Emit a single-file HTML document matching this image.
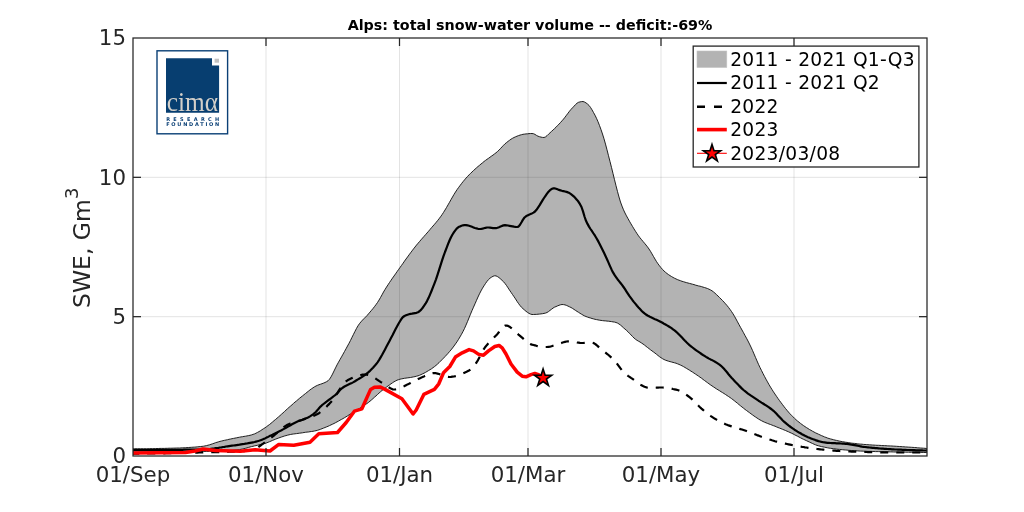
<!DOCTYPE html>
<html><head><meta charset="utf-8"><title>Alps: total snow-water volume</title>
<style>
html,body{margin:0;padding:0;background:#fff;}
body{width:1024px;height:512px;overflow:hidden;}
svg{display:block;will-change:transform;font-family:"DejaVu Sans","Liberation Sans",sans-serif;}
.tk{font-size:21.33px;fill:#262626;}
.lg{font-size:18.67px;fill:#000;letter-spacing:0.27px;}
</style></head><body>
<svg width="1024" height="512" viewBox="0 0 1024 512">
<rect width="1024" height="512" fill="#fff"/>
<clipPath id="ax"><rect x="133" y="38" width="794" height="418"/></clipPath>
<g clip-path="url(#ax)">
<path d="M133.0,448.8L134.5,448.7L136.0,448.7L137.5,448.7L139.0,448.7L140.5,448.7L142.0,448.7L143.5,448.7L145.0,448.7L146.5,448.7L148.0,448.7L149.5,448.6L151.0,448.6L152.5,448.6L154.0,448.6L155.5,448.5L157.0,448.5L158.5,448.5L160.0,448.4L161.5,448.4L163.0,448.4L164.5,448.4L166.0,448.3L167.5,448.3L169.0,448.2L170.5,448.2L172.0,448.2L173.5,448.1L175.0,448.1L176.5,448.0L178.0,448.0L179.5,448.0L181.0,447.9L182.5,447.8L184.0,447.8L185.5,447.7L187.0,447.6L188.5,447.5L190.0,447.4L191.5,447.3L193.0,447.2L194.5,447.1L196.0,447.0L197.5,446.8L199.0,446.7L200.5,446.5L202.0,446.4L203.5,446.2L205.0,445.9L206.5,445.6L208.0,445.2L209.5,444.8L211.0,444.3L212.5,443.8L214.0,443.3L215.5,442.7L217.0,442.3L218.5,441.8L220.0,441.4L221.5,441.0L223.0,440.7L224.5,440.3L226.0,440.0L227.5,439.7L229.0,439.3L230.5,439.0L232.0,438.7L233.5,438.4L235.0,438.1L236.5,437.8L238.0,437.5L239.5,437.2L241.0,436.9L242.5,436.7L244.0,436.4L245.5,436.2L247.0,435.9L248.5,435.6L250.0,435.3L251.5,434.9L253.0,434.4L254.5,433.9L256.0,433.2L257.5,432.4L259.0,431.6L260.5,430.7L262.0,429.7L263.5,428.7L265.0,427.8L266.5,426.7L268.0,425.6L269.5,424.5L271.0,423.3L272.5,422.0L274.0,420.7L275.5,419.5L277.0,418.2L278.5,416.9L280.0,415.6L281.5,414.2L283.0,412.9L284.5,411.5L286.0,410.1L287.5,408.7L289.0,407.4L290.5,406.1L292.0,404.8L293.5,403.4L295.0,402.1L296.5,400.9L298.0,399.6L299.5,398.3L301.0,397.1L302.5,395.9L304.0,394.7L305.5,393.5L307.0,392.3L308.5,391.1L310.0,389.9L311.5,388.8L313.0,387.8L314.5,386.8L316.0,386.0L317.5,385.3L319.0,384.7L320.5,384.2L322.0,383.7L323.5,383.1L325.0,382.5L326.5,381.7L328.0,380.8L329.5,379.2L331.0,376.9L332.5,374.1L334.0,371.0L335.5,367.9L337.0,364.9L338.5,362.2L340.0,359.5L341.5,356.9L343.0,354.2L344.5,351.5L346.0,348.8L347.5,346.0L349.0,343.3L350.5,340.4L352.0,337.3L353.5,334.3L355.0,331.3L356.5,328.4L358.0,325.8L359.5,323.6L361.0,321.8L362.5,320.1L364.0,318.6L365.5,317.1L367.0,315.6L368.5,313.8L370.0,312.1L371.5,310.3L373.0,308.5L374.5,306.6L376.0,304.6L377.5,302.5L379.0,300.1L380.5,297.5L382.0,294.8L383.5,292.0L385.0,289.5L386.5,287.1L388.0,284.8L389.5,282.5L391.0,280.3L392.5,278.1L394.0,276.0L395.5,273.9L397.0,271.7L398.5,269.6L400.0,267.5L401.5,265.4L403.0,263.3L404.5,261.1L406.0,259.0L407.5,257.0L409.0,254.9L410.5,252.9L412.0,250.9L413.5,248.9L415.0,247.0L416.5,245.1L418.0,243.3L419.5,241.6L421.0,239.8L422.5,238.1L424.0,236.4L425.5,234.7L427.0,233.0L428.5,231.3L430.0,229.5L431.5,227.7L433.0,226.0L434.5,224.3L436.0,222.5L437.5,220.7L439.0,218.8L440.5,216.8L442.0,214.7L443.5,212.4L445.0,210.0L446.5,207.5L448.0,204.9L449.5,202.3L451.0,199.6L452.5,197.0L454.0,194.4L455.5,192.0L457.0,189.7L458.5,187.6L460.0,185.6L461.5,183.6L463.0,181.7L464.5,179.9L466.0,178.1L467.5,176.5L469.0,174.9L470.5,173.4L472.0,172.0L473.5,170.5L475.0,169.2L476.5,167.8L478.0,166.5L479.5,165.3L481.0,164.0L482.5,162.8L484.0,161.5L485.5,160.4L487.0,159.3L488.5,158.3L490.0,157.2L491.5,156.1L493.0,155.1L494.5,153.9L496.0,152.8L497.5,151.5L499.0,150.1L500.5,148.5L502.0,146.9L503.5,145.3L505.0,143.8L506.5,142.6L508.0,141.4L509.5,140.3L511.0,139.2L512.5,138.3L514.0,137.5L515.5,136.8L517.0,136.2L518.5,135.6L520.0,135.1L521.5,134.7L523.0,134.3L524.5,134.1L526.0,133.9L527.5,133.8L529.0,133.6L530.5,133.5L532.0,133.5L533.5,133.7L535.0,134.4L536.5,135.4L538.0,136.2L539.5,136.7L541.0,137.1L542.5,137.4L544.0,137.5L545.5,136.9L547.0,135.7L548.5,134.2L550.0,132.8L551.5,131.4L553.0,130.1L554.5,128.6L556.0,127.2L557.5,125.6L559.0,124.1L560.5,122.5L562.0,120.8L563.5,119.1L565.0,117.2L566.5,115.2L568.0,113.2L569.5,111.2L571.0,109.4L572.5,107.8L574.0,106.2L575.5,104.6L577.0,103.2L578.5,102.3L580.0,101.9L581.5,101.6L583.0,101.5L584.5,102.0L586.0,102.9L587.5,104.0L589.0,105.4L590.5,107.4L592.0,109.8L593.5,112.5L595.0,115.2L596.5,118.3L598.0,121.7L599.5,125.5L601.0,129.6L602.5,134.0L604.0,138.8L605.5,144.1L607.0,149.8L608.5,155.7L610.0,161.5L611.5,167.4L613.0,173.5L614.5,179.7L616.0,185.7L617.5,191.5L619.0,197.0L620.5,202.0L622.0,206.1L623.5,209.8L625.0,213.0L626.5,215.9L628.0,218.6L629.5,221.3L631.0,223.9L632.5,226.4L634.0,228.9L635.5,231.3L637.0,233.6L638.5,235.8L640.0,237.8L641.5,239.6L643.0,241.4L644.5,243.2L646.0,245.0L647.5,246.9L649.0,249.0L650.5,251.3L652.0,253.9L653.5,256.5L655.0,259.1L656.5,261.6L658.0,263.8L659.5,265.8L661.0,267.7L662.5,269.4L664.0,271.0L665.5,272.3L667.0,273.5L668.5,274.6L670.0,275.6L671.5,276.5L673.0,277.4L674.5,278.2L676.0,278.9L677.5,279.6L679.0,280.2L680.5,280.7L682.0,281.3L683.5,281.7L685.0,282.2L686.5,282.6L688.0,283.0L689.5,283.4L691.0,283.8L692.5,284.2L694.0,284.6L695.5,285.1L697.0,285.5L698.5,285.9L700.0,286.2L701.5,286.6L703.0,287.1L704.5,287.5L706.0,288.0L707.5,288.5L709.0,289.2L710.5,289.9L712.0,290.8L713.5,291.9L715.0,293.2L716.5,294.6L718.0,296.0L719.5,297.5L721.0,299.0L722.5,300.5L724.0,302.1L725.5,303.8L727.0,305.5L728.5,307.4L730.0,309.4L731.5,311.5L733.0,313.8L734.5,316.3L736.0,319.0L737.5,321.8L739.0,324.6L740.5,327.3L742.0,330.0L743.5,332.7L745.0,335.5L746.5,338.2L748.0,341.0L749.5,344.0L751.0,347.1L752.5,350.4L754.0,353.9L755.5,357.4L757.0,360.9L758.5,364.3L760.0,367.5L761.5,370.5L763.0,373.5L764.5,376.4L766.0,379.2L767.5,381.9L769.0,384.6L770.5,387.1L772.0,389.5L773.5,391.9L775.0,394.1L776.5,396.3L778.0,398.5L779.5,400.6L781.0,402.6L782.5,404.6L784.0,406.6L785.5,408.5L787.0,410.3L788.5,412.1L790.0,413.8L791.5,415.3L793.0,416.8L794.5,418.3L796.0,419.7L797.5,421.0L799.0,422.2L800.5,423.4L802.0,424.5L803.5,425.6L805.0,426.6L806.5,427.6L808.0,428.5L809.5,429.5L811.0,430.3L812.5,431.2L814.0,432.0L815.5,432.8L817.0,433.5L818.5,434.2L820.0,434.9L821.5,435.6L823.0,436.2L824.5,436.9L826.0,437.4L827.5,438.0L829.0,438.5L830.5,438.9L832.0,439.3L833.5,439.7L835.0,440.1L836.5,440.4L838.0,440.8L839.5,441.1L841.0,441.4L842.5,441.7L844.0,441.9L845.5,442.2L847.0,442.4L848.5,442.6L850.0,442.9L851.5,443.1L853.0,443.3L854.5,443.4L856.0,443.6L857.5,443.8L859.0,444.0L860.5,444.1L862.0,444.2L863.5,444.4L865.0,444.5L866.5,444.6L868.0,444.7L869.5,444.8L871.0,444.9L872.5,445.0L874.0,445.1L875.5,445.2L877.0,445.3L878.5,445.3L880.0,445.4L881.5,445.5L883.0,445.6L884.5,445.6L886.0,445.7L887.5,445.8L889.0,445.9L890.5,445.9L892.0,446.0L893.5,446.1L895.0,446.2L896.5,446.3L898.0,446.4L899.5,446.5L901.0,446.6L902.5,446.7L904.0,446.8L905.5,446.9L907.0,447.0L908.5,447.1L910.0,447.2L911.5,447.3L913.0,447.4L914.5,447.5L916.0,447.6L917.5,447.8L919.0,447.9L920.5,448.0L922.0,448.1L923.5,448.2L925.0,448.3L926.5,448.5L927.0,448.5L927.0,452.5L926.5,452.5L925.0,452.5L923.5,452.5L922.0,452.4L920.5,452.4L919.0,452.4L917.5,452.4L916.0,452.3L914.5,452.3L913.0,452.3L911.5,452.3L910.0,452.3L908.5,452.2L907.0,452.2L905.5,452.2L904.0,452.1L902.5,452.1L901.0,452.1L899.5,452.1L898.0,452.0L896.5,452.0L895.0,452.0L893.5,452.0L892.0,451.9L890.5,451.9L889.0,451.9L887.5,451.8L886.0,451.8L884.5,451.8L883.0,451.7L881.5,451.7L880.0,451.7L878.5,451.6L877.0,451.6L875.5,451.6L874.0,451.5L872.5,451.5L871.0,451.4L869.5,451.4L868.0,451.4L866.5,451.3L865.0,451.2L863.5,451.2L862.0,451.1L860.5,451.1L859.0,451.0L857.5,450.9L856.0,450.8L854.5,450.7L853.0,450.6L851.5,450.5L850.0,450.4L848.5,450.3L847.0,450.1L845.5,450.0L844.0,449.9L842.5,449.7L841.0,449.6L839.5,449.4L838.0,449.3L836.5,449.1L835.0,448.9L833.5,448.7L832.0,448.5L830.5,448.3L829.0,448.1L827.5,447.8L826.0,447.5L824.5,447.2L823.0,446.9L821.5,446.6L820.0,446.2L818.5,445.8L817.0,445.4L815.5,444.8L814.0,444.2L812.5,443.5L811.0,442.8L809.5,442.1L808.0,441.4L806.5,440.7L805.0,440.0L803.5,439.3L802.0,438.6L800.5,437.8L799.0,437.0L797.5,436.2L796.0,435.5L794.5,434.7L793.0,433.9L791.5,433.2L790.0,432.5L788.5,431.8L787.0,431.2L785.5,430.5L784.0,429.9L782.5,429.3L781.0,428.7L779.5,428.1L778.0,427.5L776.5,426.9L775.0,426.2L773.5,425.7L772.0,425.1L770.5,424.5L769.0,424.0L767.5,423.4L766.0,422.8L764.5,422.2L763.0,421.5L761.5,420.7L760.0,419.9L758.5,419.0L757.0,418.0L755.5,417.0L754.0,416.0L752.5,414.9L751.0,413.8L749.5,412.7L748.0,411.6L746.5,410.5L745.0,409.4L743.5,408.2L742.0,407.0L740.5,405.8L739.0,404.6L737.5,403.3L736.0,402.1L734.5,400.9L733.0,399.7L731.5,398.6L730.0,397.5L728.5,396.5L727.0,395.5L725.5,394.5L724.0,393.5L722.5,392.6L721.0,391.7L719.5,390.7L718.0,389.8L716.5,388.9L715.0,387.9L713.5,386.9L712.0,385.9L710.5,384.9L709.0,383.8L707.5,382.7L706.0,381.6L704.5,380.5L703.0,379.4L701.5,378.2L700.0,377.2L698.5,376.1L697.0,375.1L695.5,374.1L694.0,373.1L692.5,372.1L691.0,371.2L689.5,370.2L688.0,369.3L686.5,368.4L685.0,367.5L683.5,366.6L682.0,365.8L680.5,365.1L679.0,364.4L677.5,363.8L676.0,363.2L674.5,362.8L673.0,362.4L671.5,362.0L670.0,361.6L668.5,361.2L667.0,360.7L665.5,360.2L664.0,359.5L662.5,358.7L661.0,357.7L659.5,356.7L658.0,355.5L656.5,354.3L655.0,353.1L653.5,352.0L652.0,350.9L650.5,349.8L649.0,348.6L647.5,347.5L646.0,346.3L644.5,345.1L643.0,344.0L641.5,343.0L640.0,342.0L638.5,341.2L637.0,340.3L635.5,339.3L634.0,338.0L632.5,336.5L631.0,334.9L629.5,333.4L628.0,331.8L626.5,330.4L625.0,329.1L623.5,327.8L622.0,326.4L620.5,325.1L619.0,324.0L617.5,323.1L616.0,322.5L614.5,322.1L613.0,321.9L611.5,321.6L610.0,321.4L608.5,321.2L607.0,321.1L605.5,320.9L604.0,320.8L602.5,320.6L601.0,320.4L599.5,320.2L598.0,319.9L596.5,319.6L595.0,319.3L593.5,318.9L592.0,318.5L590.5,318.0L589.0,317.6L587.5,317.1L586.0,316.5L584.5,315.9L583.0,315.1L581.5,314.2L580.0,313.3L578.5,312.3L577.0,311.4L575.5,310.4L574.0,309.4L572.5,308.4L571.0,307.5L569.5,306.8L568.0,306.1L566.5,305.4L565.0,304.9L563.5,304.6L562.0,304.5L560.5,304.8L559.0,305.3L557.5,305.9L556.0,306.6L554.5,307.2L553.0,308.1L551.5,309.3L550.0,310.4L548.5,311.6L547.0,312.5L545.5,313.1L544.0,313.4L542.5,313.7L541.0,313.9L539.5,314.1L538.0,314.2L536.5,314.4L535.0,314.4L533.5,314.5L532.0,314.5L530.5,314.1L529.0,313.4L527.5,312.4L526.0,311.3L524.5,310.0L523.0,308.7L521.5,307.3L520.0,305.5L518.5,303.5L517.0,301.3L515.5,298.9L514.0,296.7L512.5,294.5L511.0,292.3L509.5,290.1L508.0,287.8L506.5,285.5L505.0,283.5L503.5,281.7L502.0,280.3L500.5,278.9L499.0,277.6L497.5,276.6L496.0,275.9L494.5,275.8L493.0,276.3L491.5,277.2L490.0,278.2L488.5,279.6L487.0,281.4L485.5,283.5L484.0,285.8L482.5,288.2L481.0,290.9L479.5,293.8L478.0,297.0L476.5,300.4L475.0,303.8L473.5,307.2L472.0,310.6L470.5,314.2L469.0,317.9L467.5,321.6L466.0,325.1L464.5,328.5L463.0,331.5L461.5,334.3L460.0,336.9L458.5,339.4L457.0,341.8L455.5,343.9L454.0,346.0L452.5,348.0L451.0,349.9L449.5,351.6L448.0,353.4L446.5,355.0L445.0,356.6L443.5,358.2L442.0,359.7L440.5,361.2L439.0,362.7L437.5,364.1L436.0,365.4L434.5,366.6L433.0,367.7L431.5,368.8L430.0,369.7L428.5,370.6L427.0,371.5L425.5,372.4L424.0,373.2L422.5,373.9L421.0,374.6L419.5,375.3L418.0,375.8L416.5,376.2L415.0,376.6L413.5,376.9L412.0,377.2L410.5,377.5L409.0,377.7L407.5,377.9L406.0,378.1L404.5,378.3L403.0,378.6L401.5,378.9L400.0,379.2L398.5,379.7L397.0,380.2L395.5,381.0L394.0,381.8L392.5,382.8L391.0,383.8L389.5,384.9L388.0,386.0L386.5,387.1L385.0,388.3L383.5,389.4L382.0,390.5L380.5,391.8L379.0,393.1L377.5,394.5L376.0,395.9L374.5,397.2L373.0,398.6L371.5,399.9L370.0,401.2L368.5,402.4L367.0,403.5L365.5,404.5L364.0,405.6L362.5,406.5L361.0,407.5L359.5,408.4L358.0,409.4L356.5,410.3L355.0,411.2L353.5,412.1L352.0,413.1L350.5,414.0L349.0,414.9L347.5,415.9L346.0,416.8L344.5,417.7L343.0,418.6L341.5,419.4L340.0,420.2L338.5,421.1L337.0,421.9L335.5,422.7L334.0,423.5L332.5,424.2L331.0,424.9L329.5,425.6L328.0,426.3L326.5,426.9L325.0,427.5L323.5,428.1L322.0,428.7L320.5,429.3L319.0,429.8L317.5,430.3L316.0,430.7L314.5,431.0L313.0,431.3L311.5,431.5L310.0,431.7L308.5,432.0L307.0,432.1L305.5,432.3L304.0,432.5L302.5,432.8L301.0,433.0L299.5,433.2L298.0,433.4L296.5,433.6L295.0,433.8L293.5,434.0L292.0,434.2L290.5,434.5L289.0,434.8L287.5,435.2L286.0,435.6L284.5,436.0L283.0,436.5L281.5,437.0L280.0,437.5L278.5,438.1L277.0,438.6L275.5,439.2L274.0,439.8L272.5,440.4L271.0,441.1L269.5,441.7L268.0,442.3L266.5,442.9L265.0,443.4L263.5,443.8L262.0,444.2L260.5,444.6L259.0,444.9L257.5,445.3L256.0,445.6L254.5,445.9L253.0,446.3L251.5,446.6L250.0,447.0L248.5,447.4L247.0,447.9L245.5,448.3L244.0,448.7L242.5,449.0L241.0,449.3L239.5,449.6L238.0,449.8L236.5,449.9L235.0,450.1L233.5,450.2L232.0,450.4L230.5,450.5L229.0,450.6L227.5,450.6L226.0,450.7L224.5,450.8L223.0,450.8L221.5,450.9L220.0,451.0L218.5,451.0L217.0,451.1L215.5,451.1L214.0,451.2L212.5,451.2L211.0,451.3L209.5,451.3L208.0,451.4L206.5,451.4L205.0,451.4L203.5,451.4L202.0,451.5L200.5,451.5L199.0,451.5L197.5,451.5L196.0,451.6L194.5,451.6L193.0,451.6L191.5,451.6L190.0,451.6L188.5,451.6L187.0,451.7L185.5,451.7L184.0,451.7L182.5,451.7L181.0,451.7L179.5,451.7L178.0,451.8L176.5,451.8L175.0,451.8L173.5,451.8L172.0,451.8L170.5,451.8L169.0,451.8L167.5,451.9L166.0,451.9L164.5,451.9L163.0,451.9L161.5,451.9L160.0,451.9L158.5,451.9L157.0,451.9L155.5,451.9L154.0,451.9L152.5,452.0L151.0,452.0L149.5,452.0L148.0,452.0L146.5,452.0L145.0,452.0L143.5,452.0L142.0,452.0L140.5,452.0L139.0,452.0L137.5,452.0L136.0,452.0L134.5,452.0L133.0,452.0Z" fill="#b3b3b3" stroke="#000" stroke-width="0.85" stroke-linejoin="round"/>
</g>
<g><line x1="266" y1="38" x2="266" y2="456" stroke="#262626" stroke-opacity="0.13" stroke-width="1"/><line x1="399.5" y1="38" x2="399.5" y2="456" stroke="#262626" stroke-opacity="0.13" stroke-width="1"/><line x1="528" y1="38" x2="528" y2="456" stroke="#262626" stroke-opacity="0.13" stroke-width="1"/><line x1="661" y1="38" x2="661" y2="456" stroke="#262626" stroke-opacity="0.13" stroke-width="1"/><line x1="794" y1="38" x2="794" y2="456" stroke="#262626" stroke-opacity="0.13" stroke-width="1"/><line x1="133" y1="316.67" x2="927" y2="316.67" stroke="#262626" stroke-opacity="0.13" stroke-width="1"/><line x1="133" y1="177.33" x2="927" y2="177.33" stroke="#262626" stroke-opacity="0.13" stroke-width="1"/></g>
<g clip-path="url(#ax)">
<path d="M133.0,450.0L134.5,450.0L136.0,450.0L137.5,450.0L139.0,450.0L140.5,450.0L142.0,450.0L143.5,450.0L145.0,450.0L146.5,450.0L148.0,450.0L149.5,450.0L151.0,450.0L152.5,450.0L154.0,450.0L155.5,450.0L157.0,449.9L158.5,449.9L160.0,449.9L161.5,449.9L163.0,449.9L164.5,449.9L166.0,449.9L167.5,449.9L169.0,449.9L170.5,449.9L172.0,449.9L173.5,449.8L175.0,449.8L176.5,449.8L178.0,449.8L179.5,449.8L181.0,449.8L182.5,449.8L184.0,449.7L185.5,449.7L187.0,449.7L188.5,449.7L190.0,449.7L191.5,449.7L193.0,449.6L194.5,449.6L196.0,449.6L197.5,449.6L199.0,449.6L200.5,449.5L202.0,449.5L203.5,449.5L205.0,449.4L206.5,449.3L208.0,449.2L209.5,449.1L211.0,448.9L212.5,448.7L214.0,448.5L215.5,448.2L217.0,448.0L218.5,447.8L220.0,447.5L221.5,447.3L223.0,447.0L224.5,446.8L226.0,446.5L227.5,446.3L229.0,446.1L230.5,445.9L232.0,445.7L233.5,445.5L235.0,445.3L236.5,445.1L238.0,444.9L239.5,444.7L241.0,444.4L242.5,444.2L244.0,444.0L245.5,443.7L247.0,443.5L248.5,443.2L250.0,442.9L251.5,442.6L253.0,442.3L254.5,442.0L256.0,441.6L257.5,441.2L259.0,440.8L260.5,440.3L262.0,439.7L263.5,439.1L265.0,438.4L266.5,437.6L268.0,436.9L269.5,436.1L271.0,435.4L272.5,434.7L274.0,433.9L275.5,433.2L277.0,432.5L278.5,431.7L280.0,430.9L281.5,430.2L283.0,429.4L284.5,428.6L286.0,427.8L287.5,426.9L289.0,426.0L290.5,425.2L292.0,424.3L293.5,423.5L295.0,422.7L296.5,422.0L298.0,421.3L299.5,420.8L301.0,420.2L302.5,419.7L304.0,419.2L305.5,418.6L307.0,417.9L308.5,417.2L310.0,416.4L311.5,415.4L313.0,414.4L314.5,413.2L316.0,411.8L317.5,410.1L319.0,408.3L320.5,406.6L322.0,405.2L323.5,404.0L325.0,402.8L326.5,401.7L328.0,400.5L329.5,399.4L331.0,398.3L332.5,397.2L334.0,396.0L335.5,394.8L337.0,393.5L338.5,391.9L340.0,390.0L341.5,388.6L343.0,387.5L344.5,386.5L346.0,385.7L347.5,385.0L349.0,384.3L350.5,383.6L352.0,382.9L353.5,382.1L355.0,381.2L356.5,380.3L358.0,379.4L359.5,378.5L361.0,377.6L362.5,376.6L364.0,375.5L365.5,374.5L367.0,373.3L368.5,372.1L370.0,370.8L371.5,369.3L373.0,367.8L374.5,366.1L376.0,364.3L377.5,362.3L379.0,360.1L380.5,357.6L382.0,355.0L383.5,352.2L385.0,349.4L386.5,346.6L388.0,343.7L389.5,340.9L391.0,338.1L392.5,335.3L394.0,332.3L395.5,329.3L397.0,326.5L398.5,323.7L400.0,321.2L401.5,318.8L403.0,317.0L404.5,316.0L406.0,315.3L407.5,314.8L409.0,314.3L410.5,313.9L412.0,313.7L413.5,313.4L415.0,313.1L416.5,312.8L418.0,312.2L419.5,311.3L421.0,309.9L422.5,308.0L424.0,305.9L425.5,303.7L427.0,301.1L428.5,298.1L430.0,294.6L431.5,291.0L433.0,287.2L434.5,283.3L436.0,279.3L437.5,274.9L439.0,270.2L440.5,265.4L442.0,260.7L443.5,256.2L445.0,252.0L446.5,248.1L448.0,244.2L449.5,240.5L451.0,237.2L452.5,234.5L454.0,232.2L455.5,230.1L457.0,228.3L458.5,227.1L460.0,226.4L461.5,225.7L463.0,225.3L464.5,225.0L466.0,225.1L467.5,225.3L469.0,225.7L470.5,226.2L472.0,226.8L473.5,227.4L475.0,228.0L476.5,228.4L478.0,228.8L479.5,229.0L481.0,228.9L482.5,228.6L484.0,228.2L485.5,227.8L487.0,227.5L488.5,227.5L490.0,227.7L491.5,227.9L493.0,228.1L494.5,228.2L496.0,228.2L497.5,227.8L499.0,227.2L500.5,226.5L502.0,225.9L503.5,225.4L505.0,225.2L506.5,225.3L508.0,225.5L509.5,225.8L511.0,226.1L512.5,226.4L514.0,226.7L515.5,226.9L517.0,227.0L518.5,226.6L520.0,224.8L521.5,222.3L523.0,219.6L524.5,217.5L526.0,216.3L527.5,215.4L529.0,214.7L530.5,214.1L532.0,213.4L533.5,212.6L535.0,211.5L536.5,209.8L538.0,207.6L539.5,205.4L541.0,202.9L542.5,200.4L544.0,198.0L545.5,195.8L547.0,193.6L548.5,191.7L550.0,190.2L551.5,189.1L553.0,188.4L554.5,188.3L556.0,188.7L557.5,189.3L559.0,189.9L560.5,190.4L562.0,190.8L563.5,191.1L565.0,191.5L566.5,191.9L568.0,192.4L569.5,193.1L571.0,194.1L572.5,195.3L574.0,196.6L575.5,198.2L577.0,199.9L578.5,201.8L580.0,204.2L581.5,207.0L583.0,211.4L584.5,216.5L586.0,220.8L587.5,223.9L589.0,226.6L590.5,229.0L592.0,231.2L593.5,233.5L595.0,235.7L596.5,238.2L598.0,240.9L599.5,243.7L601.0,246.7L602.5,249.7L604.0,252.8L605.5,256.0L607.0,259.2L608.5,262.6L610.0,266.1L611.5,269.4L613.0,272.4L614.5,274.9L616.0,277.1L617.5,279.2L619.0,281.1L620.5,283.0L622.0,284.9L623.5,287.0L625.0,289.2L626.5,291.6L628.0,293.9L629.5,296.2L631.0,298.2L632.5,300.2L634.0,302.1L635.5,303.9L637.0,305.8L638.5,307.5L640.0,309.1L641.5,310.7L643.0,312.1L644.5,313.4L646.0,314.5L647.5,315.5L649.0,316.3L650.5,317.1L652.0,317.8L653.5,318.5L655.0,319.2L656.5,319.8L658.0,320.5L659.5,321.2L661.0,322.0L662.5,322.8L664.0,323.7L665.5,324.5L667.0,325.4L668.5,326.3L670.0,327.2L671.5,328.2L673.0,329.3L674.5,330.4L676.0,331.6L677.5,333.0L679.0,334.5L680.5,336.0L682.0,337.6L683.5,339.2L685.0,340.8L686.5,342.3L688.0,343.7L689.5,345.1L691.0,346.3L692.5,347.5L694.0,348.7L695.5,349.8L697.0,350.9L698.5,351.9L700.0,352.9L701.5,354.0L703.0,355.0L704.5,355.9L706.0,356.9L707.5,357.7L709.0,358.6L710.5,359.4L712.0,360.1L713.5,360.9L715.0,361.7L716.5,362.6L718.0,363.6L719.5,364.6L721.0,365.8L722.5,367.2L724.0,368.8L725.5,370.6L727.0,372.3L728.5,374.2L730.0,376.0L731.5,377.7L733.0,379.3L734.5,380.9L736.0,382.5L737.5,384.0L739.0,385.6L740.5,387.1L742.0,388.6L743.5,390.0L745.0,391.2L746.5,392.4L748.0,393.6L749.5,394.6L751.0,395.7L752.5,396.7L754.0,397.7L755.5,398.7L757.0,399.7L758.5,400.7L760.0,401.6L761.5,402.6L763.0,403.5L764.5,404.5L766.0,405.4L767.5,406.4L769.0,407.4L770.5,408.5L772.0,409.6L773.5,410.8L775.0,412.2L776.5,413.8L778.0,415.4L779.5,417.0L781.0,418.6L782.5,420.2L784.0,421.6L785.5,422.9L787.0,424.2L788.5,425.4L790.0,426.5L791.5,427.6L793.0,428.7L794.5,429.7L796.0,430.6L797.5,431.6L799.0,432.5L800.5,433.3L802.0,434.2L803.5,435.0L805.0,435.8L806.5,436.5L808.0,437.2L809.5,437.8L811.0,438.4L812.5,439.0L814.0,439.5L815.5,440.1L817.0,440.6L818.5,441.1L820.0,441.5L821.5,441.9L823.0,442.2L824.5,442.4L826.0,442.6L827.5,442.8L829.0,442.9L830.5,443.0L832.0,443.1L833.5,443.2L835.0,443.2L836.5,443.3L838.0,443.4L839.5,443.4L841.0,443.5L842.5,443.6L844.0,443.7L845.5,443.8L847.0,444.0L848.5,444.1L850.0,444.3L851.5,444.6L853.0,444.8L854.5,445.1L856.0,445.4L857.5,445.7L859.0,446.0L860.5,446.3L862.0,446.6L863.5,446.8L865.0,447.0L866.5,447.2L868.0,447.3L869.5,447.5L871.0,447.6L872.5,447.8L874.0,447.9L875.5,448.1L877.0,448.2L878.5,448.3L880.0,448.5L881.5,448.6L883.0,448.7L884.5,448.8L886.0,448.9L887.5,449.0L889.0,449.1L890.5,449.2L892.0,449.3L893.5,449.4L895.0,449.5L896.5,449.5L898.0,449.6L899.5,449.7L901.0,449.7L902.5,449.8L904.0,449.9L905.5,449.9L907.0,450.0L908.5,450.0L910.0,450.1L911.5,450.1L913.0,450.2L914.5,450.2L916.0,450.3L917.5,450.3L919.0,450.4L920.5,450.4L922.0,450.4L923.5,450.5L925.0,450.5L926.5,450.5L927.0,450.5" fill="none" stroke="#000" stroke-width="2.2" stroke-linejoin="round"/>
<path d="M133.0,453.8L134.5,453.7L136.0,453.7L137.5,453.7L139.0,453.7L140.5,453.7L142.0,453.6L143.5,453.6L145.0,453.6L146.5,453.6L148.0,453.5L149.5,453.5L151.0,453.5L152.5,453.5L154.0,453.4L155.5,453.4L157.0,453.4L158.5,453.4L160.0,453.3L161.5,453.3L163.0,453.3L164.5,453.3L166.0,453.2L167.5,453.2L169.0,453.2L170.5,453.1L172.0,453.1L173.5,453.1L175.0,453.0L176.5,453.0L178.0,453.0L179.5,453.0L181.0,452.9L182.5,452.9L184.0,452.9L185.5,452.8L187.0,452.8L188.5,452.8L190.0,452.7L191.5,452.7L193.0,452.7L194.5,452.6L196.0,452.6L197.5,452.6L199.0,452.5L200.5,452.5L202.0,452.5L203.5,452.4L205.0,452.4L206.5,452.4L208.0,452.3L209.5,452.3L211.0,452.2L212.5,452.2L214.0,452.2L215.5,452.1L217.0,452.1L218.5,452.1L220.0,452.0L221.5,452.0L223.0,451.9L224.5,451.9L226.0,451.8L227.5,451.8L229.0,451.7L230.5,451.7L232.0,451.6L233.5,451.6L235.0,451.5L236.5,451.4L238.0,451.4L239.5,451.3L241.0,451.2L242.5,451.2L244.0,451.1L245.5,450.9L247.0,450.8L248.5,450.7L250.0,450.5L251.5,450.2L253.0,449.7L254.5,449.2L256.0,448.5L257.5,447.7L259.0,446.6L260.5,445.5L262.0,444.4L263.5,443.4L265.0,442.3L266.5,441.2L268.0,440.0L269.5,438.9L271.0,437.8L272.5,436.6L274.0,435.5L275.5,434.2L277.0,432.9L278.5,431.6L280.0,430.3L281.5,429.0L283.0,427.7L284.5,426.6L286.0,425.6L287.5,424.7L289.0,424.1L290.5,423.4L292.0,422.9L293.5,422.4L295.0,421.9L296.5,421.5L298.0,421.1L299.5,420.6L301.0,420.2L302.5,419.7L304.0,419.1L305.5,418.6L307.0,418.2L308.5,417.7L310.0,417.2L311.5,416.6L313.0,416.1L314.5,415.4L316.0,414.8L317.5,414.0L319.0,413.2L320.5,412.1L322.0,410.9L323.5,409.6L325.0,408.2L326.5,406.7L328.0,405.1L329.5,403.6L331.0,402.0L332.5,400.1L334.0,398.1L335.5,395.9L337.0,393.6L338.5,391.2L340.0,388.9L341.5,386.7L343.0,384.7L344.5,382.9L346.0,381.4L347.5,380.3L349.0,379.5L350.5,378.8L352.0,378.1L353.5,377.4L355.0,376.8L356.5,376.2L358.0,375.7L359.5,375.3L361.0,375.0L362.5,374.7L364.0,374.6L365.5,374.5L367.0,374.6L368.5,375.0L370.0,375.5L371.5,376.1L373.0,377.0L374.5,377.9L376.0,378.8L377.5,379.8L379.0,380.9L380.5,381.9L382.0,382.8L383.5,383.7L385.0,384.6L386.5,385.6L388.0,386.7L389.5,387.8L391.0,388.6L392.5,389.3L394.0,389.5L395.5,389.4L397.0,389.1L398.5,388.7L400.0,388.1L401.5,387.4L403.0,386.7L404.5,386.0L406.0,385.2L407.5,384.4L409.0,383.8L410.5,383.1L412.0,382.3L413.5,381.5L415.0,380.7L416.5,379.9L418.0,379.1L419.5,378.4L421.0,377.7L422.5,377.1L424.0,376.4L425.5,375.6L427.0,374.9L428.5,374.3L430.0,373.7L431.5,373.3L433.0,373.1L434.5,373.0L436.0,373.2L437.5,373.6L439.0,374.0L440.5,374.6L442.0,375.2L443.5,375.8L445.0,376.3L446.5,376.7L448.0,376.9L449.5,377.0L451.0,376.9L452.5,376.7L454.0,376.5L455.5,376.2L457.0,375.8L458.5,375.3L460.0,374.7L461.5,374.1L463.0,373.5L464.5,372.8L466.0,372.1L467.5,371.3L469.0,370.5L470.5,369.5L472.0,368.1L473.5,366.4L475.0,364.5L476.5,362.5L478.0,360.1L479.5,357.2L481.0,354.1L482.5,351.2L484.0,348.8L485.5,346.7L487.0,344.9L488.5,343.2L490.0,341.6L491.5,340.0L493.0,338.5L494.5,337.0L496.0,335.5L497.5,333.9L499.0,332.0L500.5,330.0L502.0,328.1L503.5,326.6L505.0,325.7L506.5,325.5L508.0,325.9L509.5,326.7L511.0,327.8L512.5,329.0L514.0,330.5L515.5,331.9L517.0,333.3L518.5,334.6L520.0,335.8L521.5,337.1L523.0,338.4L524.5,339.8L526.0,341.1L527.5,342.3L529.0,343.4L530.5,344.1L532.0,344.6L533.5,345.0L535.0,345.4L536.5,345.8L538.0,346.1L539.5,346.4L541.0,346.6L542.5,346.8L544.0,346.9L545.5,347.0L547.0,347.0L548.5,346.8L550.0,346.6L551.5,346.2L553.0,345.7L554.5,345.2L556.0,344.7L557.5,344.2L559.0,343.8L560.5,343.3L562.0,342.8L563.5,342.3L565.0,341.9L566.5,341.5L568.0,341.3L569.5,341.3L571.0,341.4L572.5,341.6L574.0,341.9L575.5,342.2L577.0,342.5L578.5,342.7L580.0,342.9L581.5,343.0L583.0,343.0L584.5,342.9L586.0,342.8L587.5,342.7L589.0,342.6L590.5,342.5L592.0,342.5L593.5,343.0L595.0,343.9L596.5,345.0L598.0,346.4L599.5,347.8L601.0,349.1L602.5,350.3L604.0,351.4L605.5,352.6L607.0,353.8L608.5,355.0L610.0,356.3L611.5,357.6L613.0,359.0L614.5,360.5L616.0,362.3L617.5,364.3L619.0,366.3L620.5,368.4L622.0,370.3L623.5,372.0L625.0,373.4L626.5,374.6L628.0,375.8L629.5,376.8L631.0,377.9L632.5,378.9L634.0,380.0L635.5,381.2L637.0,382.4L638.5,383.6L640.0,384.5L641.5,385.2L643.0,386.0L644.5,386.7L646.0,387.2L647.5,387.7L649.0,387.9L650.5,388.0L652.0,388.0L653.5,387.9L655.0,387.8L656.5,387.7L658.0,387.6L659.5,387.5L661.0,387.5L662.5,387.5L664.0,387.6L665.5,387.7L667.0,387.9L668.5,388.1L670.0,388.4L671.5,388.6L673.0,389.0L674.5,389.3L676.0,389.6L677.5,390.0L679.0,390.5L680.5,391.1L682.0,391.9L683.5,392.8L685.0,393.8L686.5,394.9L688.0,396.0L689.5,397.1L691.0,398.3L692.5,399.6L694.0,401.0L695.5,402.6L697.0,404.1L698.5,405.7L700.0,407.2L701.5,408.6L703.0,409.9L704.5,411.2L706.0,412.4L707.5,413.5L709.0,414.7L710.5,415.8L712.0,416.8L713.5,417.8L715.0,418.8L716.5,419.6L718.0,420.5L719.5,421.3L721.0,422.1L722.5,422.8L724.0,423.5L725.5,424.2L727.0,424.8L728.5,425.4L730.0,425.9L731.5,426.4L733.0,426.9L734.5,427.3L736.0,427.8L737.5,428.2L739.0,428.6L740.5,429.1L742.0,429.5L743.5,430.0L745.0,430.5L746.5,431.0L748.0,431.6L749.5,432.1L751.0,432.7L752.5,433.3L754.0,433.9L755.5,434.5L757.0,435.1L758.5,435.6L760.0,436.2L761.5,436.8L763.0,437.3L764.5,437.8L766.0,438.3L767.5,438.8L769.0,439.3L770.5,439.8L772.0,440.3L773.5,440.7L775.0,441.2L776.5,441.6L778.0,442.0L779.5,442.4L781.0,442.7L782.5,443.1L784.0,443.4L785.5,443.7L787.0,444.0L788.5,444.3L790.0,444.6L791.5,444.9L793.0,445.1L794.5,445.4L796.0,445.7L797.5,446.0L799.0,446.2L800.5,446.5L802.0,446.8L803.5,447.0L805.0,447.3L806.5,447.5L808.0,447.8L809.5,448.0L811.0,448.2L812.5,448.4L814.0,448.6L815.5,448.8L817.0,449.0L818.5,449.1L820.0,449.3L821.5,449.5L823.0,449.6L824.5,449.8L826.0,449.9L827.5,450.1L829.0,450.2L830.5,450.3L832.0,450.5L833.5,450.6L835.0,450.7L836.5,450.8L838.0,450.9L839.5,451.0L841.0,451.1L842.5,451.1L844.0,451.2L845.5,451.3L847.0,451.4L848.5,451.4L850.0,451.5L851.5,451.6L853.0,451.6L854.5,451.7L856.0,451.7L857.5,451.8L859.0,451.8L860.5,451.9L862.0,451.9L863.5,452.0L865.0,452.0L866.5,452.0L868.0,452.1L869.5,452.1L871.0,452.1L872.5,452.2L874.0,452.2L875.5,452.2L877.0,452.3L878.5,452.3L880.0,452.3L881.5,452.4L883.0,452.4L884.5,452.4L886.0,452.4L887.5,452.4L889.0,452.5L890.5,452.5L892.0,452.5L893.5,452.5L895.0,452.5L896.5,452.5L898.0,452.5L899.5,452.5L901.0,452.5L902.5,452.5L904.0,452.5L905.5,452.5L907.0,452.5L908.5,452.5L910.0,452.5L911.5,452.5L913.0,452.5L914.5,452.5L916.0,452.5L917.5,452.5L919.0,452.5L920.5,452.5L922.0,452.5L923.5,452.5L925.0,452.5L926.5,452.5L927.0,452.5" fill="none" stroke="#000" stroke-width="2.2" stroke-dasharray="8 8" stroke-dashoffset="1.71" stroke-linejoin="round"/>
<path d="M133.0,453.0L185.5,452.5L195.0,451.0L203.0,449.0L215.5,450.5L240.5,451.2L255.0,449.8L270.0,451.0L278.8,444.4L293.8,445.3L310.0,442.2L318.8,433.8L330.0,433.1L337.5,432.5L346.2,422.5L354.4,411.2L361.9,408.8L370.6,389.4L374.4,387.2L380.0,386.9L385.0,389.4L401.9,398.8L405.6,403.8L413.1,414.0L416.2,410.0L423.8,394.4L434.4,389.4L438.8,383.8L443.5,372.8L449.8,366.5L455.4,357.1L462.2,352.8L469.1,349.6L473.5,350.9L479.1,354.6L483.5,355.2L488.5,350.9L494.8,346.5L499.1,345.5L502.2,347.8L506.0,354.0L511.0,364.0L517.2,372.1L522.2,376.2L526.0,376.8L531.0,374.6L534.8,373.4L538.5,374.6L542.9,378.0" fill="none" stroke="#f00" stroke-width="3.5" stroke-linejoin="round" stroke-linecap="round"/>
</g>
<polygon points="543.10,368.90 545.14,375.19 551.75,375.19 546.41,379.07 548.45,385.36 543.10,381.48 537.75,385.36 539.79,379.07 534.45,375.19 541.06,375.19" fill="#f00" stroke="#000" stroke-width="1.6" stroke-linejoin="miter"/>
<g stroke="#262626" stroke-width="1.25" fill="none">
<rect x="133" y="38" width="794" height="418"/>
<line x1="266" y1="456" x2="266" y2="448"/><line x1="266" y1="38" x2="266" y2="46"/><line x1="399.5" y1="456" x2="399.5" y2="448"/><line x1="399.5" y1="38" x2="399.5" y2="46"/><line x1="528" y1="456" x2="528" y2="448"/><line x1="528" y1="38" x2="528" y2="46"/><line x1="661" y1="456" x2="661" y2="448"/><line x1="661" y1="38" x2="661" y2="46"/><line x1="794" y1="456" x2="794" y2="448"/><line x1="794" y1="38" x2="794" y2="46"/><line x1="133" y1="316.67" x2="141" y2="316.67"/><line x1="927" y1="316.67" x2="919" y2="316.67"/><line x1="133" y1="177.33" x2="141" y2="177.33"/><line x1="927" y1="177.33" x2="919" y2="177.33"/>
</g>
<g class="tk"><text x="133" y="482" text-anchor="middle">01/Sep</text><text x="266" y="482" text-anchor="middle">01/Nov</text><text x="399.5" y="482" text-anchor="middle">01/Jan</text><text x="528" y="482" text-anchor="middle">01/Mar</text><text x="661" y="482" text-anchor="middle">01/May</text><text x="794" y="482" text-anchor="middle">01/Jul</text><text x="126" y="463.40" text-anchor="end">0</text><text x="126" y="324.07" text-anchor="end">5</text><text x="126" y="184.73" text-anchor="end">10</text><text x="126" y="45.40" text-anchor="end">15</text></g>
<text x="530" y="30.2" text-anchor="middle" font-size="14.3px" font-weight="bold" fill="#000">Alps: total snow-water volume -- deficit:-69%</text>
<text transform="translate(89.8,308) rotate(-90)" font-size="23.47px" fill="#262626">SWE, Gm<tspan dy="-12" font-size="18px">3</tspan></text>
<!-- legend -->
<g>
<rect x="693.2" y="46.1" width="225.7" height="120.9" fill="#fff" stroke="#262626" stroke-width="1.3"/>
<rect x="697" y="51" width="29.8" height="16.5" fill="#b3b3b3" stroke="#c4c4c4" stroke-width="0.6"/>
<line x1="697" y1="83" x2="726.8" y2="83" stroke="#000" stroke-width="2.2"/>
<line x1="697" y1="106.7" x2="726.8" y2="106.7" stroke="#000" stroke-width="2.4" stroke-dasharray="8 9"/>
<line x1="697" y1="129.6" x2="726.8" y2="129.6" stroke="#f00" stroke-width="3.6"/>
<line x1="697" y1="153.3" x2="726.8" y2="153.3" stroke="#f00" stroke-width="1.1"/>
<polygon points="712.00,144.40 714.04,150.69 720.65,150.69 715.31,154.57 717.35,160.86 712.00,156.98 706.65,160.86 708.69,154.57 703.35,150.69 709.96,150.69" fill="#f00" stroke="#000" stroke-width="1.6"/>
<g class="lg">
<text x="730.2" y="65.5">2011 - 2021 Q1-Q3</text>
<text x="730.2" y="89.2">2011 - 2021 Q2</text>
<text x="730.2" y="112.6">2022</text>
<text x="730.2" y="136">2023</text>
<text x="730.2" y="159.5">2023/03/08</text>
</g></g>
<!-- logo -->
<g>
<rect x="157" y="50.8" width="70.6" height="83" fill="#fff" stroke="#0b4076" stroke-width="1.4"/>
<path d="M166,58.3H212V65.4H219.1V112.7H166Z" fill="#073e70"/>
<rect x="214.6" y="58.7" width="4.4" height="4" fill="#c2c2c2"/>
<text x="166.8" y="111.2" font-family="'Liberation Serif','DejaVu Serif',serif" font-size="27px" fill="#d2cfc9" textLength="51.2" lengthAdjust="spacingAndGlyphs">cimα</text>
<text x="166.2" y="120.5" font-size="5px" font-weight="bold" fill="#0b4076" textLength="53" lengthAdjust="spacing">RESEARCH</text>
<text x="166.2" y="126.1" font-size="5px" font-weight="bold" fill="#0b4076" textLength="53" lengthAdjust="spacing">FOUNDATION</text>
</g>
</svg>
</body></html>
